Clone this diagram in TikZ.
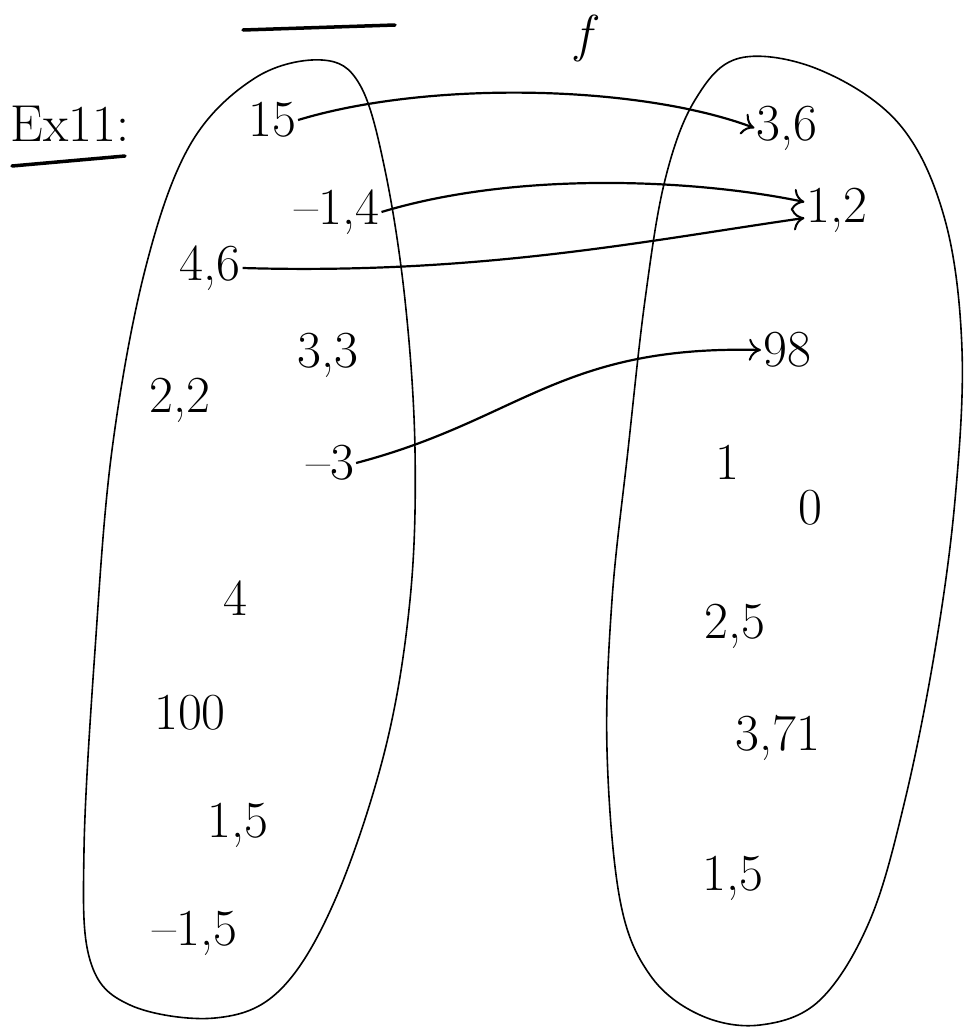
\documentclass[tikz,border=0pt]{standalone}
\usetikzlibrary{arrows.meta}
\begin{document}
\begin{tikzpicture}[x=1pt,y=-1pt,
  every node/.style={font=\fontsize{52}{60}\selectfont, inner sep=2pt},
  setline/.style={line width=1.6pt, line join=round},
  maparrow/.style={line width=2.2pt, -{To[length=12pt,width=22pt,line width=2pt]}},
  uline/.style={line width=3.5pt, line cap=round}]
\useasboundingbox (0,0) rectangle (967,1028);
% sets
\draw[setline] plot[smooth cycle, tension=0.6] coordinates {
 (322,60) (360,85) (385,170) (405,300) (415,450) (410,600) (385,750) (335,900)
 (280,990) (215,1018) (130,1005) (90,960) (84,850) (95,650) (112,450) (145,270)
 (190,145) (255,78)};
\draw[setline] plot[smooth cycle, tension=0.6] coordinates {
 (740,58) (820,70) (900,125) (945,220) (962,350) (955,500) (935,650) (905,800)
 (870,920) (820,1000) (760,1025) (700,1015) (650,975) (620,900) (607,750)
 (612,600) (628,450) (645,300) (665,180) (695,100)};
% headings
\draw[uline] (243,30) -- (395,25);
\node (f) at (583,38) {\itshape f};
\node (ex) at (70,124) {Ex11:};
\draw[uline] (12,166) -- (125,156);
% left set
\node (l15) at (272,120) {15};
\node (lm14) at (337,212) {--1,4};
\node (l46) at (210,268) {4,6};
\node (l33) at (328,355) {3,3};
\node (l22) at (180,400) {2,2};
\node (lm3) at (330,463) {--3};
\node (l4) at (235,598) {4};
\node (l100) at (190,713) {100};
\node (l15b) at (238,825) {1,5};
\node (lm15) at (195,933) {--1,5};
% right set
\node (r36) at (787,128) {3,6};
\node (r12) at (837,210) {1,2};
\node (r98) at (787,350) {98};
\node (r1) at (727,462) {1};
\node (r0) at (810,508) {0};
\node (r25) at (735,626) {2,5};
\node (r371) at (778,738) {3,71};
\node (r15) at (733,878) {1,5};
% mappings
\draw[maparrow] (l15.east) .. controls (430,80) and (640,85) .. (r36.west);
\draw[maparrow] (lm14.east) .. controls (520,170) and (700,180) .. ([yshift=8pt]r12.west);
\draw[maparrow] (l46.east) .. controls (480,275) and (650,240) .. ([yshift=-8pt]r12.west);
\draw[maparrow] (lm3.east) .. controls (520,420) and (560,345) .. (r98.west);
\end{tikzpicture}
\end{document}
